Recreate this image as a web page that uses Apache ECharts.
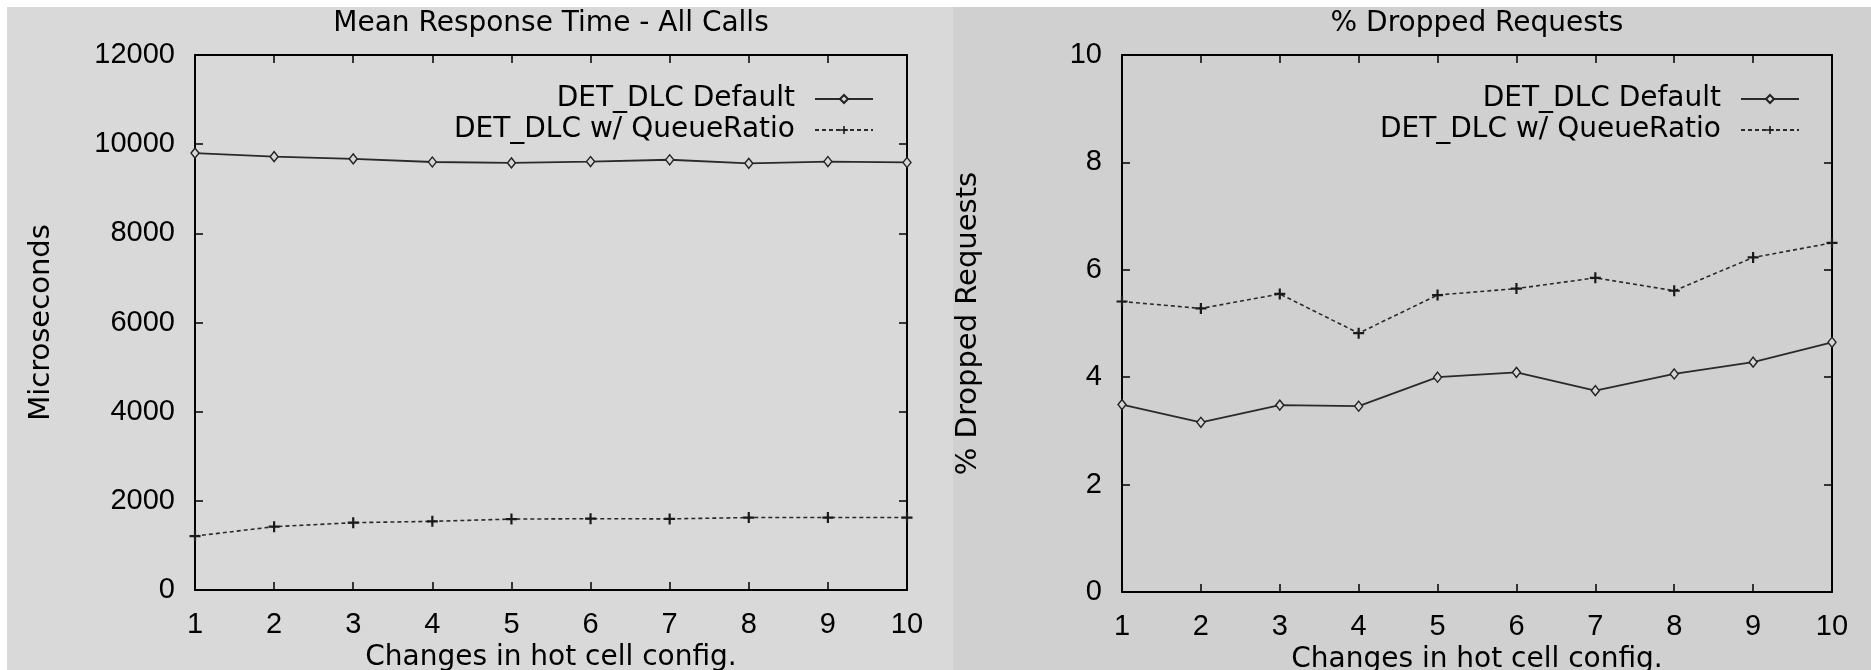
<!DOCTYPE html>
<html>
<head>
<meta charset="utf-8">
<script src="https://cdn.jsdelivr.net/npm/echarts@6/dist/echarts.min.js"></script>
<style>
  html, body { margin: 0; padding: 0; background: #ffffff; }
  #chart { width: 1871px; height: 670px; }
</style>
</head>
<body>
<div id="chart"></div>
<script>
// ---- data ----
var xValues = [1, 2, 3, 4, 5, 6, 7, 8, 9, 10];
var seriesNames = ['DET_DLC Default', 'DET_DLC w/ QueueRatio'];
var responseDefault = [9800, 9720, 9670, 9600, 9580, 9610, 9650, 9570, 9610, 9590];
var responseQueueRatio = [1210, 1420, 1510, 1540, 1590, 1600, 1595, 1625, 1625, 1625];
var droppedDefault = [3.49, 3.16, 3.48, 3.46, 4.00, 4.09, 3.75, 4.06, 4.28, 4.65];
var droppedQueueRatio = [5.41, 5.28, 5.55, 4.82, 5.53, 5.65, 5.85, 5.61, 6.23, 6.50];
var titles = ['Mean Response Time - All Calls', '% Dropped Requests'];
var yNames = ['Microseconds', '% Dropped Requests'];
var xName = 'Changes in hot cell config.';

function pairs(vals) { return xValues.map(function (x, i) { return [x, vals[i]]; }); }
function plain(v) { return String(v); }

var TICK_FONT = 'Liberation Sans';
var TEXT_FONT = 'DejaVu Sans';
var plusPath = 'path://M4,0h2v4h4v2h-4v4h-2v-4h-4v-2h4z';

var grids = [
  { left: 195, top: 55, width: 712, height: 535, containLabel: false, outerBoundsMode: 'none' },
  { left: 1122, top: 55, width: 710, height: 537, containLabel: false, outerBoundsMode: 'none' }
];

function xAxes(gi) {
  var base = {
    type: 'value', gridIndex: gi, min: 1, max: 10, interval: 1,
    axisLine: { show: true, onZero: false, lineStyle: { color: '#000', width: 2 } },
    axisTick: { show: true, inside: true, length: 8, lineStyle: { color: '#000', width: 1.5 } },
    splitLine: { show: false }
  };
  return [
    Object.assign({}, base, {
      position: 'bottom',
      axisLabel: { show: true, margin: 20, color: '#000', fontFamily: TICK_FONT, fontSize: 29, formatter: plain },
      name: xName, nameLocation: 'middle', nameGap: 47,
      nameTextStyle: { color: '#000', fontFamily: TEXT_FONT, fontSize: 28 }
    }),
    Object.assign({}, base, { position: 'top', axisLabel: { show: false } })
  ];
}

function yAxes(gi, max, interval, name) {
  var base = {
    type: 'value', gridIndex: gi, min: 0, max: max, interval: interval,
    axisLine: { show: true, onZero: false, lineStyle: { color: '#000', width: 2 } },
    axisTick: { show: true, inside: true, length: 8, lineStyle: { color: '#000', width: 1.5 } },
    splitLine: { show: false }
  };
  return [
    Object.assign({}, base, {
      position: 'left',
      axisLabel: { show: true, margin: 20, color: '#000', fontFamily: TICK_FONT, fontSize: 29, formatter: plain },
      name: name, nameLocation: 'middle', nameGap: 139,
      nameTextStyle: { color: '#000', fontFamily: TEXT_FONT, fontSize: 29 }
    }),
    Object.assign({}, base, { position: 'right', axisLabel: { show: false } })
  ];
}

function solidSeries(name, xi, yi, vals) {
  return {
    name: name, type: 'line', xAxisIndex: xi, yAxisIndex: yi, data: pairs(vals),
    symbol: 'diamond', symbolSize: [8, 10], showAllSymbol: true,
    lineStyle: { color: '#2a2a2a', width: 1.8, type: 'solid' },
    itemStyle: { color: '#d6d6d6', borderColor: '#222', borderWidth: 1.4 },
    emphasis: { disabled: true }, animation: false
  };
}
function dashedSeries(name, xi, yi, vals) {
  return {
    name: name, type: 'line', xAxisIndex: xi, yAxisIndex: yi, data: pairs(vals),
    symbol: plusPath, symbolSize: 11, showAllSymbol: true,
    lineStyle: { color: '#2a2a2a', width: 1.6, type: [4, 3] },
    itemStyle: { color: '#1a1a1a', borderWidth: 0 },
    emphasis: { disabled: true }, animation: false
  };
}

function legend(rightPx) {
  return {
    data: seriesNames, orient: 'vertical', right: rightPx, top: 80,
    align: 'right', itemWidth: 58, itemHeight: 10, itemGap: 3,
    selectedMode: false,
    textStyle: { color: '#000', fontFamily: TEXT_FONT, fontSize: 28, lineHeight: 28, padding: [0, 15, 0, 0] }
  };
}

var option = {
  animation: false,
  backgroundColor: '#ffffff',
  graphic: [
    { type: 'rect', z: -10, silent: true, shape: { x: 7, y: 7, width: 946, height: 663 }, style: { fill: '#d9d9d9' } },
    { type: 'rect', z: -10, silent: true, shape: { x: 953, y: 7, width: 918, height: 663 }, style: { fill: '#d0d0d0' } }
  ],
  title: [
    { text: titles[0], left: 551, top: 10, textAlign: 'center', padding: 0,
      textStyle: { color: '#000', fontFamily: TEXT_FONT, fontSize: 28, fontWeight: 'normal' } },
    { text: titles[1], left: 1477, top: 10, textAlign: 'center', padding: 0,
      textStyle: { color: '#000', fontFamily: TEXT_FONT, fontSize: 28, fontWeight: 'normal' } }
  ],
  legend: [legend(992), legend(66)],
  grid: grids,
  xAxis: xAxes(0).concat(xAxes(1)),
  yAxis: yAxes(0, 12000, 2000, yNames[0]).concat(yAxes(1, 10, 2, yNames[1])),
  series: [
    solidSeries(seriesNames[0], 0, 0, responseDefault),
    dashedSeries(seriesNames[1], 0, 0, responseQueueRatio),
    solidSeries(seriesNames[0], 2, 2, droppedDefault),
    dashedSeries(seriesNames[1], 2, 2, droppedQueueRatio)
  ]
};

var chart = echarts.init(document.getElementById('chart'), null, { renderer: 'canvas' });
chart.setOption(option);
</script>
</body>
</html>
